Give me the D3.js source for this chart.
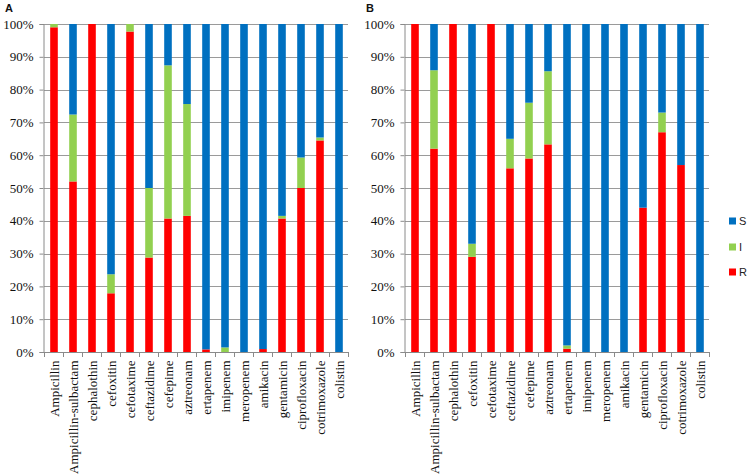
<!DOCTYPE html>
<html><head><meta charset="utf-8">
<script src="https://cdn.jsdelivr.net/npm/d3@7"></script>
<style>body{margin:0;background:#fff}svg{display:block}
.serif{font-family:"Liberation Serif","Times New Roman",Times,serif;font-size:13px;fill:#111}
.sans{font-family:"Liberation Sans",Arial,sans-serif}
</style>
</head><body>
<script>
const categories = ["Ampicillin","Ampicillin-sulbactam","cephalothin","cefoxitin","cefotaxime","ceftazidime","cefepime","aztreonam","ertapenem","imipenem","meropenem","amikacin","gentamicin","ciprofloxacin","cotrimoxazole","colistin"];
const seriesKeys = ["R","I","S"];
const legendOrder = ["S","I","R"];
const colors = {S:"#0070C0", I:"#92D050", R:"#FF0000"};
const yTicks = [0,10,20,30,40,50,60,70,80,90,100];

// Panel A (percent)
const A_R = [99, 52, 100, 17.9, 97.7, 28.8, 40.7, 41.5, 0.8, 0, 0, 0.9, 40.7, 50, 64.5, 0];
const A_I = [1, 20.4, 0, 5.8, 2.3, 21.2, 46.7, 34.1, 0, 1.4, 0, 0, 0.8, 9.3, 0.9, 0];
const A_S = [0, 27.6, 0, 76.3, 0, 50, 12.6, 24.4, 99.2, 98.6, 100, 99.1, 58.5, 40.7, 34.6, 100];
// Panel B (percent)
const B_R = [100, 62, 100, 29, 100, 56, 59, 63.3, 1, 0, 0, 0, 44, 67, 57, 0];
const B_I = [0, 23.9, 0, 4, 0, 9, 17, 22.3, 1, 0, 0, 0, 0, 6, 0, 0];
const B_S = [0, 14.1, 0, 67, 0, 35, 24, 14.4, 98, 100, 100, 100, 56, 27, 43, 100];

const panels = [
  {label:"A", R:A_R, I:A_I, S:A_S, x0:44, x1:348, lx:5, ly:12},
  {label:"B", R:B_R, I:B_I, S:B_S, x0:405, x1:709, lx:366, ly:12}
];

const W = 750, H = 475;
const yTop = 24, yBot = 352;
const svg = d3.select("body").append("svg").attr("width", W).attr("height", H);
const y = d3.scaleLinear().domain([0,100]).range([yBot, yTop]);

panels.forEach(p => {
  const g = svg.append("g");
  const xb = d3.scaleBand().domain(categories).range([p.x0, p.x1]);
  // gridlines
  g.selectAll("line.grid").data(yTicks.filter(t=>t>0)).join("line")
    .attr("x1", p.x0).attr("x2", p.x1).attr("y1", d=>Math.round(y(d))+0.5).attr("y2", d=>Math.round(y(d))+0.5)
    .attr("stroke", "#9a9a9a").attr("stroke-width", 1);
  // y axis
  const yAxis = d3.axisLeft(y).tickValues(yTicks).tickFormat(d=>d+"%").tickSize(4).tickPadding(6);
  const ya = g.append("g").attr("transform", `translate(${p.x0-0.5},0)`).call(yAxis);
  ya.attr("font-family", null).attr("font-size", null);
  ya.select(".domain").attr("stroke","#8a8a8a");
  ya.selectAll(".tick line").attr("stroke","#8a8a8a");
  ya.selectAll(".tick text").attr("class","serif").attr("fill", null);
  // stacked bars
  const rows = categories.map((c,i)=>({cat:c, R:p.R[i], I:p.I[i], S:p.S[i]}));
  const stack = d3.stack().keys(seriesKeys)(rows);
  const bw = xb.bandwidth()*0.4;
  g.selectAll("g.series").data(stack).join("g").attr("fill", d=>colors[d.key])
    .selectAll("rect").data(d=>d).join("rect")
    .attr("x", d=>xb(d.data.cat)+xb.bandwidth()/2 - bw/2 + 0.5)
    .attr("width", bw)
    .attr("y", d=>y(d[1]))
    .attr("height", d=>Math.max(0, y(d[0])-y(d[1])));
  // x axis
  const xAxis = d3.axisBottom(xb).tickSize(0).tickPadding(0).tickFormat(d=>d);
  const xa = g.append("g").attr("transform", `translate(0,${yBot+0.5})`).call(xAxis);
  xa.attr("font-family", null).attr("font-size", null);
  xa.select(".domain").attr("stroke","#8a8a8a").attr("d", `M${p.x0-0.5},0H${p.x1}`);
  xa.selectAll(".tick line").remove();
  xa.selectAll(".tick text").attr("class","serif").attr("fill", null)
    .attr("text-anchor","end").attr("transform","rotate(-90)")
    .attr("x", -8).attr("y", 1).attr("dy","0.35em").attr("dx", 0);
  // tick marks at band boundaries
  const bounds = categories.map(c=>xb(c)).concat([p.x1]);
  g.selectAll("line.xt").data(bounds).join("line")
    .attr("x1", d=>Math.round(d)+0.5).attr("x2", d=>Math.round(d)+0.5)
    .attr("y1", yBot).attr("y2", yBot+5).attr("stroke","#8a8a8a");
  // panel label
  svg.append("text").attr("x", p.lx).attr("y", p.ly).text(p.label).attr("class","sans")
    .attr("font-weight","bold").attr("font-size", 11).attr("fill","#111");
});

// legend
const leg = svg.append("g");
const legY = {S:221, I:247, R:272};
legendOrder.forEach(k=>{
  leg.append("rect").attr("x",729).attr("y",legY[k]-3.5).attr("width",7).attr("height",7).attr("fill",colors[k]);
  leg.append("text").attr("x",739).attr("y",legY[k]).attr("dy","0.36em").text(k).attr("class","sans")
    .attr("font-size", 11).attr("fill","#222");
});
</script>
</body></html>
